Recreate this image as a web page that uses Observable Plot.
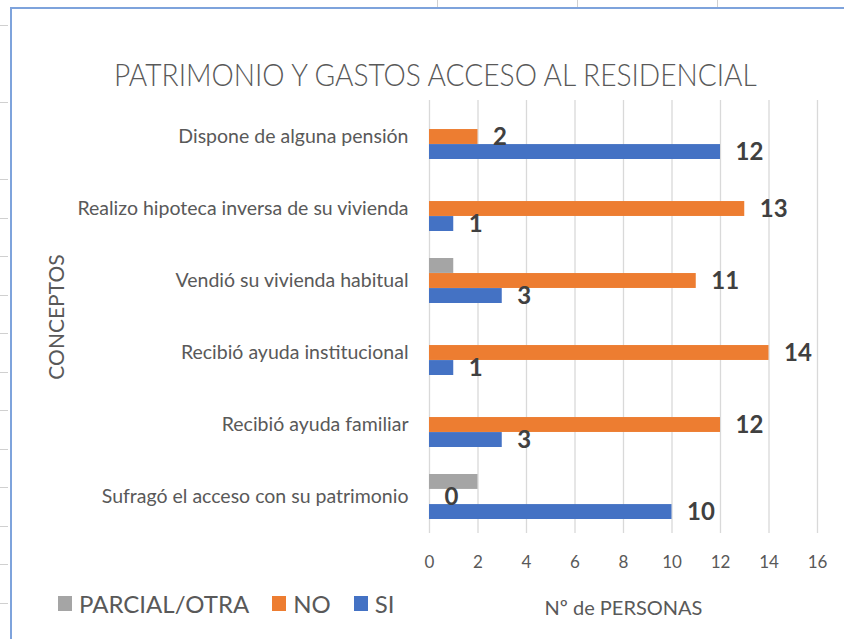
<!DOCTYPE html>
<html>
<head>
<meta charset="utf-8">
<script src="https://cdn.jsdelivr.net/npm/d3@7"></script>
<script src="https://cdn.jsdelivr.net/npm/@observablehq/plot@0.6"></script>
<style>
  body { margin: 0; background: #fff; }
  #wrap { position: relative; width: 844px; height: 639px; overflow: hidden; background: #fff; font-family: Lato, "Open Sans", sans-serif; }
  #rows { position: absolute; left: 0; top: 0; width: 8px; height: 639px;
          background: repeating-linear-gradient(to bottom, transparent 0px, transparent 25px, #d0d0d0 25px, #d0d0d0 26px, transparent 26px, transparent 38.5px); }
  #cols { position: absolute; left: 0; top: 0; width: 844px; height: 8px; }
  #cols span { position: absolute; top: 0; width: 1px; height: 8px; background: #d0d0d0; }
  #frame { position: absolute; left: 10px; top: 7px; width: 840px; height: 640px; border-left: 2px solid #7ea3dc; border-top: 2px solid #7ea3dc; }
  #title { position: absolute; left: 0; width: 870px; top: 55px; text-align: center; font-size: 31px; font-weight: 300; color: #595959; white-space: nowrap; }
  #title span { display: inline-block; transform: scaleX(0.907); transform-origin: center; }
  #chart { position: absolute; left: 0; top: 90px; }
  #legend { position: absolute; left: 58px; top: 589px; display: flex; align-items: center; font-size: 24px; color: #595959; white-space: nowrap; }
  #legend .item { display: flex; align-items: center; margin-right: 23px; }
  #legend .sw { width: 14px; height: 15px; margin-right: 7px; }
  g[aria-label="y-axis label"] text { font-size: 21px; }
  g[aria-label="x-axis label"] text { font-size: 20px; }
</style>
</head>
<body>
<div id="wrap">
  <div id="rows"></div>
  <div id="cols"><span style="left:437px"></span><span style="left:577px"></span><span style="left:717px"></span></div>
  <div id="frame"></div>
  <div id="title"><span>PATRIMONIO Y GASTOS ACCESO AL RESIDENCIAL</span></div>
  <div id="chart"></div>
  <div id="legend"></div>
</div>
<script>
// ---- data ----
const categories = [
  "Dispone de alguna pensión",
  "Realizo hipoteca inversa de su vivienda",
  "Vendió su vivienda habitual",
  "Recibió ayuda institucional",
  "Recibió ayuda familiar",
  "Sufragó el acceso con su patrimonio"
];
const series = ["PARCIAL/OTRA", "NO", "SI"];
const parcialValues = [0, 0, 1, 0, 0, 2];
const noValues = [2, 13, 11, 14, 12, 0];
const siValues = [12, 1, 3, 1, 3, 10];
const seriesColors = ["#a5a5a5", "#ed7d31", "#4472c4"];
const labelledSeries = ["NO", "SI"];
const xTicks = [0, 2, 4, 6, 8, 10, 12, 14, 16];
const xLabel = "Nº de PERSONAS";
const yLabel = "CONCEPTOS";

const valuesBySeries = [parcialValues, noValues, siValues];
const rows = [];
series.forEach((s, si) => {
  categories.forEach((c, ci) => rows.push({concepto: c, serie: s, valor: valuesBySeries[si][ci], idx: si}));
});

// ---- layout ----
const width = 844, height = 549;
const marginTop = 10, marginBottom = 106, marginLeft = 429, marginRight = 27;
const padInner = 0.375, padOuter = 0.1875;
const step = (height - marginTop - marginBottom) / (categories.length - padInner + 2 * padOuter);
const bw = step * (1 - padInner);
const slot = bw / series.length;

const bars = series.map((s, i) => Plot.barX(rows.filter(d => d.serie === s), {
  x: "valor", y: "concepto", fill: seriesColors[i],
  insetTop: slot * i, insetBottom: slot * (series.length - 1 - i)
}));

const labels = series.map((s, i) => labelledSeries.includes(s) ? Plot.text(rows.filter(d => d.serie === s), {
  x: "valor", y: "concepto", text: d => String(d.valor),
  dy: slot * (i - (series.length - 1) / 2), dx: 15,
  textAnchor: "start", fontWeight: "bold", fontSize: 24, fill: "#404040"
}) : null).filter(Boolean);

const chart = Plot.plot({
  width, height, marginTop, marginBottom, marginLeft, marginRight,
  style: {fontFamily: "Lato, 'Open Sans', sans-serif", fontSize: "18px", color: "#595959", background: "transparent", overflow: "visible"},
  x: {domain: [0, 16]},
  y: {domain: categories, paddingInner: padInner, paddingOuter: padOuter},
  marks: [
    Plot.gridX(xTicks, {stroke: "#d9d9d9", strokeOpacity: 1, strokeWidth: 1.3}),
    ...bars,
    ...labels,
    Plot.axisX({ticks: xTicks, tickSize: 0, tickPadding: 22, fontSize: 17, label: xLabel, labelAnchor: "center", labelOffset: 81, labelArrow: "none"}),
    Plot.axisY({tickSize: 0, tickPadding: 21, fontSize: 19.5, label: yLabel, labelAnchor: "center", labelOffset: 380, labelArrow: "none"})
  ]
});
document.getElementById("chart").appendChild(chart);

const legend = document.getElementById("legend");
series.forEach((s, i) => {
  const item = document.createElement("div");
  item.className = "item";
  const sw = document.createElement("span");
  sw.className = "sw";
  sw.style.background = seriesColors[i];
  const t = document.createElement("span");
  t.textContent = s;
  item.appendChild(sw); item.appendChild(t);
  legend.appendChild(item);
});
</script>
</body>
</html>
